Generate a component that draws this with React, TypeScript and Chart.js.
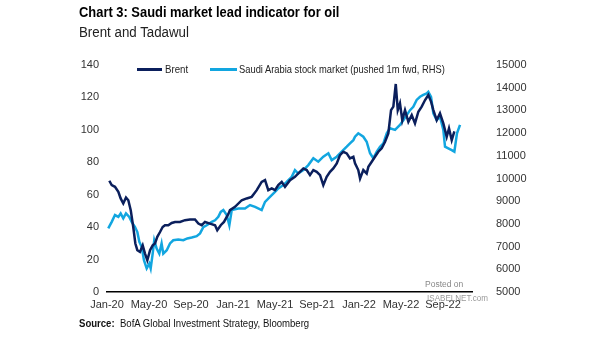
import React, { useEffect, useRef } from "react";
import { Chart, registerables } from "chart.js";

Chart.register(...registerables);

// ---- Data (months since Jan-2020) ----
const xTickMonths = [0, 4, 8, 12, 16, 20, 24, 28, 32];
const xTickLabels = ["Jan-20", "May-20", "Sep-20", "Jan-21", "May-21", "Sep-21", "Jan-22", "May-22", "Sep-22"];
const leftTicks = [0, 20, 40, 60, 80, 100, 120, 140];
const rightTicks = [5000, 6000, 7000, 8000, 9000, 10000, 11000, 12000, 13000, 14000, 15000];

const brentMonths = [
  0.22, 0.45, 0.76, 1.08, 1.3, 1.55, 1.81, 2.03, 2.26, 2.5, 2.7, 2.89, 3.14, 3.4, 3.62, 3.84,
  4.1, 4.35, 4.57, 4.79, 5.05, 5.3, 5.52, 5.84, 6.16, 6.48, 6.95, 7.43, 7.9, 8.38, 8.7, 9.02,
  9.33, 9.81, 10.29, 10.5, 10.83, 11.14, 11.55, 11.71, 12.19, 12.83, 13.3, 13.78, 14.26, 14.73,
  15.05, 15.36, 15.69, 16.0, 16.31, 16.64, 16.95, 17.43, 17.9, 18.22, 18.7, 19.02, 19.33, 19.65,
  19.97, 20.29, 20.6, 20.92, 21.24, 21.55, 21.88, 22.19, 22.5, 22.83, 23.14, 23.46, 23.62, 23.93,
  24.1, 24.41, 24.73, 24.89, 25.21, 25.52, 25.84, 26.16, 26.48, 26.79, 27.05, 27.27, 27.5, 27.69,
  27.9, 28.12, 28.38, 28.7, 29.02, 29.33, 29.65, 29.97, 30.29, 30.6, 30.86, 31.08, 31.4, 31.71,
  32.03, 32.35, 32.57, 32.83, 33.08,
];
const brentValues = [
  68.6, 65.9, 64.9, 61.8, 57.7, 54.6, 58.3, 56.6, 50.5, 40.1, 29.9, 25.8, 24.7, 28.8, 23.7, 19.6,
  25.8, 28.8, 29.9, 34.0, 37.0, 40.1, 41.2, 41.2, 42.6, 43.2, 43.2, 44.3, 44.7, 44.7, 42.2, 41.2,
  43.2, 42.2, 41.2, 38.1, 41.2, 43.2, 48.0, 50.5, 52.5, 56.6, 57.7, 58.7, 62.8, 67.9,
  69.0, 62.8, 63.9, 62.8, 65.9, 67.9, 64.9, 69.0, 71.0, 73.1, 76.2, 75.2, 72.1, 75.2,
  74.1, 72.1, 65.9, 71.0, 74.1, 76.2, 79.3, 84.4, 86.5, 85.5, 82.4, 83.4, 79.3, 75.2,
  70.0, 75.2, 73.1, 77.2, 80.3, 83.4, 86.5, 88.6, 92.7, 97.8, 112.2, 114.3, 128.3, 112.2,
  116.4, 106.0, 112.2, 105.0, 109.1, 104.0, 111.2, 114.3, 118.4, 121.5, 117.4, 112.2, 106.0, 110.2,
  104.0, 95.7, 100.9, 93.7, 99.0,
];

const saudiMonths = [
  0.12, 0.45, 0.76, 1.08, 1.3, 1.55, 1.81, 2.12, 2.35, 2.67, 2.89, 3.08, 3.3, 3.52, 3.78, 4.03,
  4.16, 4.35, 4.5, 4.73, 4.98, 5.2, 5.36, 5.69, 6.0, 6.31, 6.79, 7.27, 7.65, 8.07, 8.54, 8.86,
  9.17, 9.5, 9.97, 10.29, 10.6, 10.83, 11.08, 11.4, 11.65, 11.88, 12.5, 13.14, 13.62, 14.1,
  14.73, 15.05, 15.52, 16.0, 16.31, 16.79, 17.11, 17.59, 17.9, 18.22, 18.7, 19.17, 19.65, 20.12,
  20.6, 21.08, 21.4, 21.88, 22.35, 22.83, 23.14, 23.46, 23.62, 23.93, 24.41, 24.73, 25.05, 25.36,
  25.69, 26.0, 26.32, 26.64, 26.95, 27.43, 27.9, 28.22, 28.54, 28.86, 29.17, 29.49, 29.81, 30.12,
  30.45, 30.6, 30.86, 31.08, 31.4, 31.71, 32.03, 32.19, 32.5, 32.83, 33.08, 33.33, 33.62,
];
const saudiValues = [
  7800, 8090, 8390, 8310, 8460, 8240, 8460, 8310, 8090, 7860, 7640, 7210, 6990, 6400, 6040, 6250,
  6040, 6690, 7280, 6910, 6690, 7140, 6690, 6840, 7140, 7280, 7310, 7280, 7360, 7400, 7460, 7580,
  7860, 7940, 8090, 8160, 8310, 8530, 8610, 8390, 7940, 8610, 8680, 8680, 8830, 8750,
  8610, 8970, 9190, 9410, 9560, 9710, 9850, 10070, 10370, 10220, 10370, 10590, 10890, 10740,
  10960, 11110, 10810, 10960, 11180, 11400, 11550, 11690, 11840, 11990, 11840, 11620, 11110, 10890,
  11180, 11400, 11550, 11990, 12210, 12140, 12360, 12570, 12790, 13010, 13160, 13460, 13600, 13680,
  13750, 13820, 13600, 12870, 12570, 12720, 12140, 11400, 11330, 11250, 11180, 11990, 12360,
];

const brentLabel = "Brent";
const saudiLabel = "Saudi Arabia stock market (pushed 1m fwd, RHS)";
const brentColor = "#0b1f5c";
const saudiColor = "#12a6e0";

const FONT = "'Liberation Sans', Arial, sans-serif";

export default function App() {
  const ref = useRef<HTMLCanvasElement | null>(null);

  useEffect(() => {
    if (!ref.current) return;
    const chart = new Chart(ref.current, {
      type: "line",
      data: {
        datasets: [
          {
            label: brentLabel,
            data: brentMonths.map((m, i) => ({ x: m, y: brentValues[i] })),
            borderColor: brentColor,
            backgroundColor: brentColor,
            borderWidth: 2.5,
            pointRadius: 0,
            tension: 0,
            yAxisID: "y",
          },
          {
            label: saudiLabel,
            data: saudiMonths.map((m, i) => ({ x: m, y: saudiValues[i] })),
            borderColor: saudiColor,
            backgroundColor: saudiColor,
            borderWidth: 2.5,
            pointRadius: 0,
            tension: 0,
            yAxisID: "y1",
          },
        ],
      },
      options: {
        responsive: false,
        animation: false,
        layout: { padding: { left: 75, right: 63, top: 65, bottom: 27 } },
        plugins: {
          legend: { display: false },
          title: { display: false },
          tooltip: { enabled: false },
        },
        scales: {
          x: {
            type: "linear",
            min: 0,
            max: 34.76,
            grid: { display: false, drawTicks: false },
            border: { display: true, color: "#000", width: 1.5 },
            afterBuildTicks: (scale: any) => {
              scale.ticks = xTickMonths.map((v) => ({ value: v }));
            },
            afterFit: (scale: any) => {
              scale.height = 22;
            },
            ticks: {
              autoSkip: false,
              maxRotation: 0,
              padding: 6,
              color: "#333",
              font: { family: FONT, size: 11 },
              callback: (v: any) => {
                const i = xTickMonths.indexOf(Number(v));
                return i >= 0 ? xTickLabels[i] : "";
              },
            },
          },
          y: {
            position: "left",
            min: 0,
            max: 140,
            grid: { display: false, drawTicks: false },
            border: { display: false },
            afterBuildTicks: (scale: any) => {
              scale.ticks = leftTicks.map((v) => ({ value: v }));
            },
            afterFit: (scale: any) => {
              scale.width = 32;
            },
            ticks: { padding: 8, color: "#333", font: { family: FONT, size: 11 } },
          },
          y1: {
            position: "right",
            min: 5000,
            max: 15000,
            grid: { display: false, drawTicks: false },
            border: { display: false },
            afterBuildTicks: (scale: any) => {
              scale.ticks = rightTicks.map((v) => ({ value: v }));
            },
            afterFit: (scale: any) => {
              scale.width = 70;
            },
            ticks: {
              padding: 24,
              color: "#333",
              font: { family: FONT, size: 11 },
              callback: (v: any) => String(v),
            },
          },
        },
      },
    });
    return () => chart.destroy();
  }, []);

  const abs = (s: React.CSSProperties): React.CSSProperties => ({
    position: "absolute",
    whiteSpace: "nowrap",
    transformOrigin: "left center",
    ...s,
  });

  return (
    <div style={{ position: "absolute", left: 0, top: 0, width: 605, height: 341, background: "#fff", overflow: "hidden", fontFamily: FONT }}>
      <canvas ref={ref} width={605} height={341} style={{ position: "absolute", left: 0, top: 0 }} />
      <div style={abs({ left: 79, top: 5, fontSize: 14.5, lineHeight: "14.5px", fontWeight: 700, color: "#000", transform: "scaleX(0.89)" })}>
        Chart 3: Saudi market lead indicator for oil
      </div>
      <div style={abs({ left: 79, top: 25, fontSize: 14, lineHeight: "14px", color: "#222", transform: "scaleX(0.95)" })}>
        Brent and Tadawul
      </div>
      {/* Legend */}
      <div style={abs({ left: 137, top: 68, width: 25, height: 3, background: brentColor })} />
      <div style={abs({ left: 165, top: 63, fontSize: 11, lineHeight: "12px", color: "#222", transform: "scaleX(0.88)" })}>{brentLabel}</div>
      <div style={abs({ left: 210, top: 68, width: 27, height: 3, background: saudiColor })} />
      <div style={abs({ left: 239, top: 63, fontSize: 11, lineHeight: "12px", color: "#222", transform: "scaleX(0.85)" })}>{saudiLabel}</div>
      {/* Watermark */}
      <div style={abs({ left: 425, top: 280, fontSize: 8.5, lineHeight: "9px", color: "#888" })}>Posted on</div>
      <div style={abs({ left: 427, top: 293, fontSize: 8.5, lineHeight: "10px", color: "#999", transform: "scaleX(0.95)" })}>ISABELNET.com</div>
      {/* Source */}
      <div style={abs({ left: 79, top: 317, fontSize: 11, lineHeight: "12px", color: "#111", transform: "scaleX(0.87)" })}>
        <span style={{ fontWeight: 700 }}>Source:</span>&nbsp; BofA Global Investment Strategy, Bloomberg
      </div>
    </div>
  );
}
